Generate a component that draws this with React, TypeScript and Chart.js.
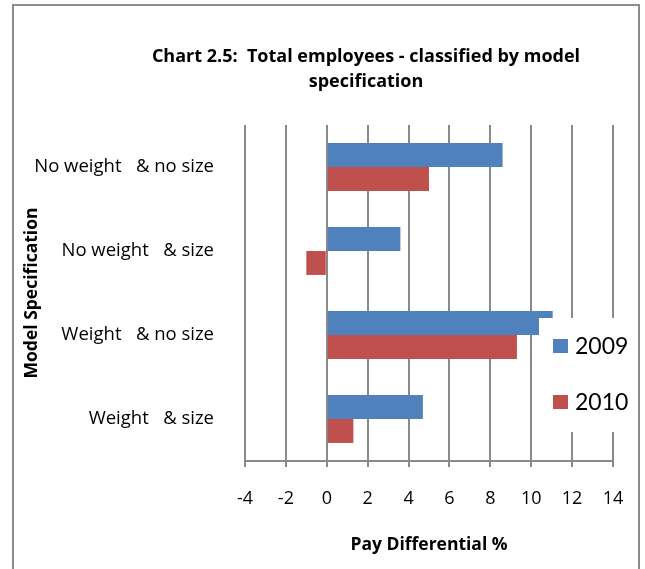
import React, { useEffect, useRef } from "react";
import { Chart, registerables } from "chart.js";

Chart.register(...registerables);

const categories = ["No weight   & no size", "No weight   & size", "Weight   & no size", "Weight   & size"];
const seriesNames = ["2009", "2010"];
const values2009 = [8.6, 3.6, 11.05, 4.7];
const values2010 = [5.0, -1.0, 9.3, 1.3];
const xMin = -4;
const xMax = 14;
const xStep = 2;
const titleLines = ["Chart 2.5:  Total employees - classified by model", "specification"];
const xTitle = "Pay Differential %";
const yTitle = "Model Specification";

const BLUE = "#4F81BD";
const RED = "#C0504D";
const GRID = "#8a8a8a";
const FONT = "'Open Sans', Lato, sans-serif";
const LEGEND_FONT = "Lato, 'Open Sans', sans-serif";

const framePlugin = {
  id: "frame",
  beforeDraw(chart: any) {
    const ctx = chart.ctx;
    ctx.save();
    ctx.fillStyle = "#ffffff";
    ctx.fillRect(0, 0, chart.width, chart.height);
    ctx.strokeStyle = "#8c8c8c";
    ctx.lineWidth = 2;
    ctx.strokeRect(13, 5, 626, chart.height + 10);
    ctx.fillStyle = "#000";
    ctx.font = `bold 18px ${FONT}`;
    ctx.textAlign = "center";
    ctx.textBaseline = "middle";
    ctx.fillText(titleLines[0], 366, 57);
    ctx.fillText(titleLines[1], 366, 82);
    ctx.restore();
  },
};

const legendPlugin = {
  id: "boxLegend",
  afterDraw(chart: any) {
    const ctx = chart.ctx;
    ctx.save();
    ctx.fillStyle = "#ffffff";
    ctx.fillRect(539, 318, 92, 114);
    const colors = [BLUE, RED];
    const ys = [346, 402];
    seriesNames.forEach((name, i) => {
      ctx.fillStyle = colors[i];
      ctx.fillRect(553, ys[i] - 7, 15, 14);
      ctx.fillStyle = "#000";
      ctx.font = `23px ${LEGEND_FONT}`;
      ctx.textAlign = "left";
      ctx.textBaseline = "middle";
      ctx.fillText(name, 575, ys[i] + 1);
    });
    ctx.restore();
  },
};

export default function App() {
  const ref = useRef<HTMLCanvasElement | null>(null);
  useEffect(() => {
    document.body.style.margin = "0";
    if (!ref.current) return;
    const chart = new Chart(ref.current, {
      type: "bar",
      data: {
        labels: categories,
        datasets: [
          { label: seriesNames[0], data: values2009, backgroundColor: BLUE, categoryPercentage: 0.57, barPercentage: 1 },
          { label: seriesNames[1], data: values2010, backgroundColor: RED, categoryPercentage: 0.57, barPercentage: 1 },
        ],
      },
      options: {
        indexAxis: "y",
        responsive: false,
        animation: false,
        layout: { padding: { top: 125, left: 0, right: 32, bottom: 0 } },
        plugins: { legend: { display: false }, title: { display: false }, tooltip: { enabled: false } },
        scales: {
          x: {
            min: xMin,
            max: xMax,
            ticks: { stepSize: xStep, color: "#000", font: { family: FONT, size: 18 }, padding: 21 },
            grid: { color: GRID, lineWidth: 2, tickLength: 6, tickColor: GRID },
            border: { display: true, color: GRID, width: 2 },
            title: { display: true, text: xTitle, color: "#000", font: { family: FONT, size: 17.5, weight: "bold" }, padding: { top: 0, bottom: 13 } },
            afterFit(scale: any) { scale.height = 108; },
          },
          y: {
            ticks: { color: "#000", font: { family: FONT, size: 18.5 }, padding: 31 },
            grid: { display: false, drawTicks: false },
            border: { display: false },
            title: { display: true, text: yTitle, color: "#000", font: { family: FONT, size: 17.5, weight: "bold" }, padding: { top: 22, bottom: 0 } },
            afterFit(scale: any) { scale.width = 245; },
          },
        },
      },
      plugins: [framePlugin, legendPlugin],
    });
    return () => chart.destroy();
  }, []);
  return <canvas ref={ref} width={645} height={569} style={{ display: "block" }} />;
}
